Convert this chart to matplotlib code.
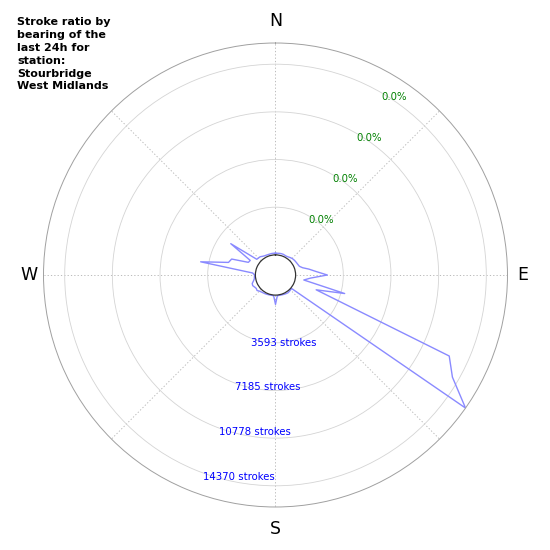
import numpy as np
import matplotlib
matplotlib.use("Agg")
import matplotlib.pyplot as plt

# Bearings (degrees, clockwise from north) and stroke counts per bearing bin
bearings = list(range(0, 360, 5))
strokes = [
    130, 130, 140, 150, 150, 130, 120, 150, 200, 250,      # 0-45
    280, 300, 320, 350, 400, 600, 1040, 1540, 2390, 1140,   # 50-95
    650, 3880, 1745, 12930, 13880, 15967, 60, 80, 100, 120, # 100-145
    100, 80, 60, 50, 40, 60, 700, 60, 40, 50,               # 150-195
    60, 80, 100, 120, 150, 200, 300, 250, 300, 380,         # 200-245
    350, 200, 100, 80, 60, 210, 4210, 2150, 2000, 740,      # 250-295
    680, 2600, 325, 300, 280, 200, 150, 130, 120, 120,      # 300-345
    130, 130,                                               # 350-355
]
rmax = 15967
tick_values = [3593, 7185, 10778, 14370]
tick_labels = ["3593 strokes", "7185 strokes", "10778 strokes", "14370 strokes"]
pct_labels = ["0.0%", "0.0%", "0.0%", "0.0%"]
compass_angles = [0, 90, 180, 270]
compass = ["N", "E", "S", "W"]
title = "Stroke ratio by\nbearing of the\nlast 24h for\nstation:\nStourbridge\nWest Midlands"

fig = plt.figure(figsize=(5.5, 5.5), dpi=100)
ax = fig.add_axes([0.0791, 0.0782, 0.8436, 0.8436], projection="polar")
ax.set_theta_zero_location("N")
ax.set_theta_direction(-1)

theta = np.deg2rad(bearings + [bearings[0]])
vals = strokes + [strokes[0]]
ax.plot(theta, vals, color="#8a8aff", lw=1.0)

rorigin = -0.095 * rmax
ax.set_ylim(0, rmax)
ax.set_rorigin(rorigin)
ax.set_yticks(tick_values)
ax.set_yticklabels([])
ax.set_thetagrids(range(0, 360, 45), labels=[""] * 8)
ax.xaxis.grid(True, linestyle=(0, (1.5, 2.5)), color="#b0b0b0", lw=0.6)
ax.yaxis.grid(True, linestyle="-", color="#d4d4d4", lw=0.6)
ax.spines["polar"].set_color("#a0a0a0")
ax.spines["polar"].set_linewidth(0.7)
ax.spines["inner"].set_color("#333333")
ax.spines["inner"].set_linewidth(0.9)

outer_px = 232.0
def px_to_r(px):
    return rorigin + px / outer_px * (rmax - rorigin)

for ang, lab in zip(compass_angles, compass):
    dist = 254 if ang in (0, 180) else 247
    ax.text(np.deg2rad(ang), px_to_r(dist), lab, fontsize=12.5,
            ha="center", va="center", clip_on=False)

step = rmax / 211.5  # strokes per pixel approx
for v, lab in zip(tick_values, tick_labels):
    ax.text(np.deg2rad(199.7), v + 4 * step, lab, color="blue", fontsize=7.3,
            ha="left", va="center")
for v, lab in zip(tick_values, pct_labels):
    ax.text(np.deg2rad(30.6), v - 3.5 * step, lab, color="green", fontsize=7.3,
            ha="left", va="center")

fig.text(0.031, 1 - 17 / 550, title, fontsize=8, fontweight="bold",
         ha="left", va="top", linespacing=1.36)

fig.savefig("out.png", dpi=100)
